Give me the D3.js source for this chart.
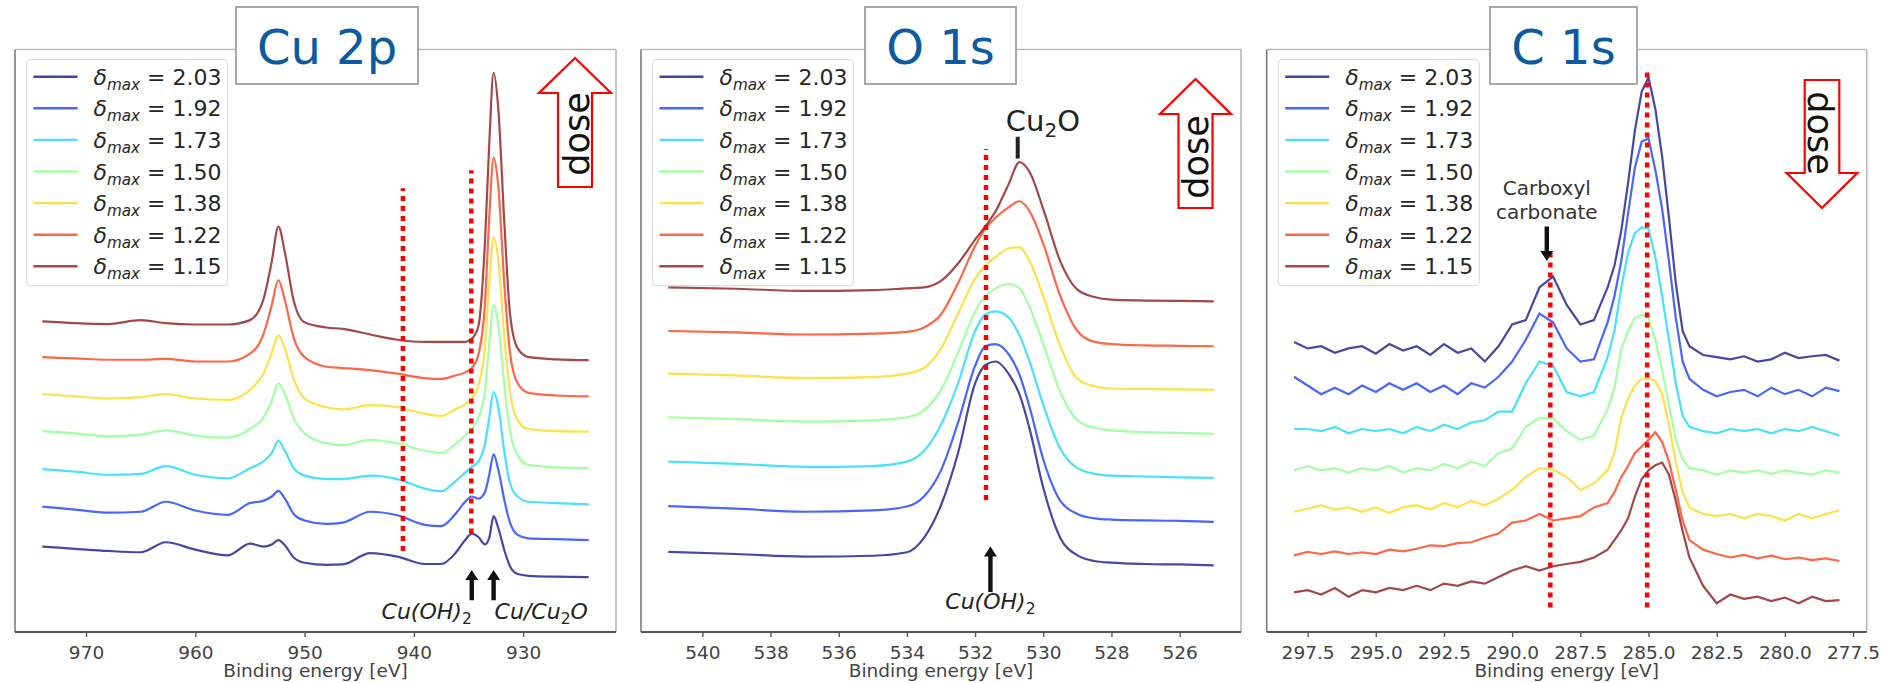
<!DOCTYPE html>
<html>
<head>
<meta charset="utf-8">
<script src="https://cdn.jsdelivr.net/npm/d3@7"></script>
<style>
  body { margin: 0; background: #fff; }
  svg text { font-family: "DejaVu Sans", sans-serif; }
</style>
</head>
<body>
<div id="chart"></div>
<script>
var width = 1885,
  height = 683;

// legend labels (delta_max) and jet colours, top of legend first
var labels = ["2.03", "1.92", "1.73", "1.50", "1.38", "1.22", "1.15"];
var colors = ["#00007f", "#002aff", "#00d4ff", "#80ff80", "#ffd400", "#ff2a00", "#7f0000"];

// ---- Cu 2p (intensity a.u., curves already stacked) ----
var cuEnergy = [974, 971, 968, 965, 962.7, 960, 957, 955, 953.8, 953, 952.4, 951.8, 951, 950, 948, 946.5, 944, 941.5, 939, 937.5, 936.2, 935.3, 934.7, 934.1, 933.5, 933.1, 932.7, 932.3, 931.7, 931.2, 930.5, 929.5, 927, 924];
var cu203 = [197, 192, 187, 184, 207, 190, 177, 204, 197, 202, 212, 200, 172, 160, 155, 156, 182, 174, 157, 157, 182, 212, 227, 219, 202, 217, 267, 242, 187, 152, 134, 130, 128, 127];
var cu192 = [289, 282, 275, 277, 300, 280, 270, 297, 302, 312, 325, 307, 272, 257, 249, 252, 277, 269, 247, 244, 272, 300, 312, 307, 322, 362, 409, 377, 302, 252, 224, 216, 214, 212];
var cu173 = [375, 369, 362, 364, 382, 362, 354, 377, 392, 412, 440, 417, 377, 360, 352, 352, 360, 352, 330, 324, 347, 367, 380, 392, 432, 492, 552, 522, 412, 342, 312, 300, 297, 294];
var cu150 = [462, 457, 450, 454, 464, 452, 447, 467, 492, 532, 572, 547, 492, 457, 434, 430, 442, 434, 417, 412, 432, 452, 467, 492, 552, 662, 752, 712, 562, 462, 407, 384, 379, 377];
var cu138 = [547, 542, 537, 540, 547, 537, 534, 557, 592, 642, 682, 652, 582, 537, 517, 512, 522, 517, 502, 497, 512, 524, 537, 567, 652, 802, 907, 862, 672, 552, 487, 467, 462, 461];
var cu122 = [632, 629, 626, 626, 628, 622, 622, 640, 682, 752, 809, 762, 677, 632, 610, 607, 602, 594, 584, 582, 590, 597, 607, 637, 752, 952, 1090, 1032, 792, 642, 572, 550, 544, 542];
var cu115 = [714, 710, 708, 717, 710, 707, 707, 717, 762, 852, 932, 872, 762, 712, 700, 697, 684, 672, 667, 667, 667, 667, 674, 702, 892, 1122, 1285, 1212, 932, 732, 652, 632, 627, 625];
var cuTicks = [970, 960, 950, 940, 930];
// dotted guides: [energy, from, to]
var cuGuides = [[941.0, 187, 1020], [934.74, 227, 1061]];

// ---- O 1s ----
var oEnergy = [541, 539, 537, 535, 534, 533.5, 533, 532.5, 532, 531.7, 531.4, 531, 530.7, 530.4, 530, 529.5, 529, 528.5, 528, 527, 526, 525];
var o203 = [185, 180, 174, 176, 184, 217, 292, 412, 572, 614, 622, 592, 547, 467, 332, 217, 177, 164, 160, 157, 156, 154];
var o192 = [290, 284, 277, 280, 289, 312, 372, 482, 612, 657, 662, 637, 592, 517, 397, 302, 272, 262, 259, 257, 256, 254];
var o173 = [392, 387, 380, 382, 392, 417, 477, 572, 692, 730, 737, 722, 682, 622, 522, 422, 377, 364, 360, 358, 356, 355];
var o150 = [494, 490, 484, 487, 494, 510, 557, 642, 737, 772, 790, 800, 790, 747, 662, 552, 487, 470, 464, 460, 458, 456];
var o138 = [594, 590, 584, 586, 594, 607, 652, 732, 812, 842, 862, 882, 884, 852, 772, 657, 582, 565, 560, 559, 558, 557];
var o122 = [692, 689, 684, 686, 690, 700, 730, 802, 887, 927, 952, 977, 990, 967, 892, 772, 692, 667, 662, 659, 658, 657];
var o115 = [792, 789, 784, 786, 790, 792, 807, 847, 902, 932, 967, 1032, 1080, 1057, 972, 852, 787, 770, 764, 762, 761, 760];
var oTicks = [540, 538, 536, 534, 532, 530, 528, 526];
var oGuides = [[531.68, 304, 1110]];

// ---- C 1s ----
var cEnergy = [298, 297.5, 297, 296.5, 296, 295.5, 295, 294.5, 294, 293.5, 293, 292.5, 292, 291.5, 291, 290.5, 290, 289.5, 289, 288.5, 288, 287.5, 287, 286.5, 286.25, 286, 285.75, 285.5, 285.25, 285, 284.75, 284.5, 284.25, 284, 283.75, 283.5, 283, 282.5, 282, 281.5, 281, 280.5, 280, 279.5, 279, 278.5, 278];
var c203 = [667, 652, 657, 642, 652, 657, 640, 662, 647, 657, 637, 662, 642, 652, 622, 657, 707, 717, 792, 817, 752, 707, 717, 792, 842, 922, 1032, 1152, 1242, 1274, 1202, 1092, 952, 802, 692, 657, 637, 632, 627, 634, 622, 627, 642, 630, 634, 637, 624];
var c192 = [587, 567, 547, 562, 547, 567, 552, 572, 557, 572, 552, 567, 547, 572, 562, 587, 622, 672, 732, 712, 652, 622, 627, 712, 772, 852, 962, 1067, 1127, 1134, 1062, 972, 852, 722, 622, 582, 557, 542, 552, 557, 542, 562, 547, 557, 542, 562, 554];
var c173 = [467, 467, 462, 472, 457, 467, 462, 467, 457, 472, 462, 477, 467, 482, 487, 507, 507, 572, 622, 612, 552, 542, 552, 632, 692, 792, 872, 917, 930, 927, 862, 772, 672, 572, 497, 472, 462, 457, 467, 462, 467, 457, 467, 462, 472, 462, 452];
var c150 = [372, 382, 372, 377, 367, 377, 372, 382, 367, 377, 372, 387, 377, 392, 382, 412, 422, 472, 492, 492, 462, 442, 452, 512, 562, 652, 692, 722, 730, 722, 672, 602, 522, 442, 397, 377, 372, 362, 372, 367, 372, 364, 372, 367, 362, 372, 367];
var c138 = [277, 284, 292, 282, 287, 277, 287, 274, 287, 292, 282, 297, 287, 302, 292, 307, 327, 357, 377, 374, 357, 327, 342, 372, 412, 492, 537, 567, 582, 584, 577, 547, 477, 392, 322, 287, 272, 267, 272, 262, 272, 267, 257, 272, 262, 272, 280];
var c122 = [177, 185, 180, 186, 180, 184, 180, 190, 186, 192, 200, 198, 205, 207, 218, 227, 252, 257, 272, 257, 262, 267, 287, 297, 322, 357, 382, 412, 427, 442, 460, 437, 392, 327, 257, 212, 190, 180, 172, 178, 170, 176, 168, 172, 166, 170, 164];
var c115 = [92, 97, 87, 102, 82, 97, 92, 102, 97, 107, 97, 112, 107, 117, 112, 127, 142, 152, 142, 152, 157, 162, 172, 190, 212, 234, 262, 312, 352, 372, 384, 390, 362, 302, 232, 172, 107, 67, 87, 77, 82, 72, 80, 67, 82, 72, 74];
var cTicks = [297.5, 295, 292.5, 290, 287.5, 285, 282.5, 280, 277.5];
var cGuides = [[288.6, 57, 883], [285.05, 57, 1293]];


var svg = d3.select("#chart").append("svg")
  .attr("width", width)
  .attr("height", height);

var y = d3.scaleLinear()
  .domain([0, 1340])
  .range([632.4, 48.8]);

var panels = [
  { left: 15, right: 616, domain: [976.5, 921.5], energy: cuEnergy,
    series: [cu203, cu192, cu173, cu150, cu138, cu122, cu115],
    ticks: cuTicks, fmt: d3.format("d"), guides: cuGuides,
    title: "Cu 2p", box: [236, 418], curve: d3.curveMonotoneX,
    dose: { cx: 575, tip: 58, base: 93, end: 187, head: 36, shaft: 17, tx: 589, ty: 134, rot: -90 } },
  { left: 641, right: 1241, domain: [541.8, 524.2], energy: oEnergy,
    series: [o203, o192, o173, o150, o138, o122, o115],
    ticks: oTicks, fmt: d3.format("d"), guides: oGuides,
    title: "O 1s", box: [865, 1016], curve: d3.curveMonotoneX,
    dose: { cx: 1195.5, tip: 79, base: 114, end: 208, head: 35.5, shaft: 17, tx: 1208, ty: 157, rot: -90 } },
  { left: 1266.7, right: 1866.7, domain: [299, 277], energy: cEnergy,
    series: [c203, c192, c173, c150, c138, c122, c115],
    ticks: cTicks, fmt: d3.format(".1f"), guides: cGuides,
    title: "C 1s", box: [1490, 1637], curve: d3.curveLinear,
    dose: { cx: 1822, tip: 208, base: 173, end: 80, head: 35.3, shaft: 17.3, tx: 1808, ty: 133, rot: 90 } }
];

// black annotation arrow, tail -> tip (pixels)
function arrow(g, x0, ya, yb) {
  var dir = yb < ya ? -1 : 1, hl = 10, hw = 6.5, sw = 2.2;
  var pts = [
    [x0 - sw, ya], [x0 - sw, yb - dir * hl], [x0 - hw, yb - dir * hl],
    [x0, yb], [x0 + hw, yb - dir * hl], [x0 + sw, yb - dir * hl], [x0 + sw, ya]
  ];
  g.append("polygon").attr("points", pts.map(function (p) { return p.join(","); }).join(" "))
    .attr("fill", "#111");
}

function mathLabel(g, x, yy, anchor, parts) {
  var t = g.append("text").attr("x", x).attr("y", yy)
    .attr("text-anchor", anchor).attr("font-size", 22).attr("fill", "#222");
  parts.forEach(function (p) {
    var s = t.append("tspan").text(p[0]);
    if (p[1] == "i") s.attr("font-style", "italic");
    if (p[1] == "sub") s.attr("font-size", 15.5).attr("dy", 5);
    if (p[1] == "up") s.attr("font-style", "italic").attr("dy", -5);
  });
}

panels.forEach(function (p, pi) {
  var x = d3.scaleLinear().domain(p.domain).range([p.left, p.right]);
  var g = svg.append("g");

  // frame
  g.append("line").attr("x1", p.left).attr("x2", p.right).attr("y1", 49.5).attr("y2", 49.5)
    .attr("stroke", "#b8b8b8").attr("stroke-width", 1.6);
  g.append("line").attr("x1", p.right).attr("x2", p.right).attr("y1", 49.5).attr("y2", 632)
    .attr("stroke", "#b8b8b8").attr("stroke-width", 1.6);
  g.append("line").attr("x1", p.left).attr("x2", p.left).attr("y1", 49.5).attr("y2", 632)
    .attr("stroke", "#7a7a7a").attr("stroke-width", 1.6);
  g.append("line").attr("x1", p.left).attr("x2", p.right).attr("y1", 632).attr("y2", 632)
    .attr("stroke", "#555").attr("stroke-width", 1.8);

  var ax = g.append("g")
    .attr("transform", "translate(0,632)")
    .call(d3.axisBottom(x).tickValues(p.ticks).tickFormat(p.fmt).tickSize(5).tickSizeOuter(0));
  ax.select(".domain").remove();
  ax.selectAll(".tick line").attr("stroke", "#555").attr("stroke-width", 1.4);
  ax.selectAll(".tick text").attr("font-size", 18.5).attr("fill", "#444").attr("dy", "1.05em")
    .attr("font-family", "DejaVu Sans");

  g.append("text")
    .attr("x", (p.left + p.right) / 2).attr("y", 677)
    .attr("text-anchor", "middle").attr("font-size", 18.5).attr("fill", "#444")
    .text("Binding energy [eV]");

  // spectra
  var line = d3.line()
    .x(function (d, j) { return x(p.energy[j]); })
    .y(function (d) { return y(d); })
    .curve(p.curve);
  p.series.forEach(function (s, i) {
    g.append("path").datum(s)
      .attr("d", line)
      .attr("fill", "none")
      .attr("stroke", colors[i])
      .attr("stroke-opacity", 0.72)
      .attr("stroke-width", 2.2);
  });

  // red dotted guides
  p.guides.forEach(function (d) {
    g.append("line")
      .attr("x1", x(d[0])).attr("x2", x(d[0]))
      .attr("y1", y(d[1])).attr("y2", y(d[2]))
      .attr("stroke", "#ff0000").attr("stroke-width", 4.5)
      .attr("stroke-dasharray", "5,5");
  });

  // annotations
  if (pi == 0) {
    arrow(g, x(934.7), y(74), y(143));
    arrow(g, x(932.7), y(74), y(143));
    mathLabel(g, x(934.7), y(31), "end", [["Cu(OH)", "i"], ["2", "sub"]]);
    mathLabel(g, x(932.7) + 1, y(31), "start", [["Cu/Cu", "i"], ["2", "sub"], ["O", "up"]]);
  }
  if (pi == 1) {
    arrow(g, x(531.55), y(93), y(197));
    mathLabel(g, x(531.55), y(54), "middle", [["Cu(OH)", "i"], ["2", "sub"]]);
    g.append("line").attr("x1", x(530.75)).attr("x2", x(530.75))
      .attr("y1", y(1138)).attr("y2", y(1088))
      .attr("stroke", "#222").attr("stroke-width", 4);
    var cu = g.append("text").attr("x", x(530.01)).attr("y", y(1151))
      .attr("text-anchor", "middle").attr("font-size", 29).attr("fill", "#222");
    cu.append("tspan").text("Cu");
    cu.append("tspan").attr("font-size", 20).attr("dy", 6).text("2");
    cu.append("tspan").attr("dy", -6).text("O");
  }
  if (pi == 2) {
    arrow(g, x(288.73), y(932), y(853));
    g.append("text").attr("x", x(288.73)).attr("y", y(1004))
      .attr("text-anchor", "middle").attr("font-size", 20).attr("fill", "#333").text("Carboxyl");
    g.append("text").attr("x", x(288.73)).attr("y", y(949))
      .attr("text-anchor", "middle").attr("font-size", 20).attr("fill", "#333").text("carbonate");
  }

  // legend
  var lx = p.left + 11.5, ly = 59.7;
  var lg = g.append("g");
  lg.append("rect")
    .attr("x", lx).attr("y", ly).attr("width", 201).attr("height", 226)
    .attr("rx", 4)
    .attr("fill", "#fff").attr("fill-opacity", 0.85)
    .attr("stroke", "#dcdcdc").attr("stroke-width", 1.2);
  labels.forEach(function (lab, i) {
    var ry = ly + 17 + i * 31.6;
    lg.append("line")
      .attr("x1", lx + 7).attr("x2", lx + 51)
      .attr("y1", ry).attr("y2", ry)
      .attr("stroke", colors[i]).attr("stroke-opacity", 0.72).attr("stroke-width", 2.4);
    var t = lg.append("text").attr("x", lx + 67).attr("y", ry + 8)
      .attr("font-size", 22).attr("fill", "#262626");
    t.append("tspan").attr("font-style", "italic").text("δ");
    t.append("tspan").attr("font-style", "italic").attr("font-size", 15.2).attr("dy", 5).text("max");
    t.append("tspan").attr("dy", -5).text(" = " + lab);
  });

  // title box
  g.append("rect")
    .attr("x", p.box[0]).attr("y", 7)
    .attr("width", p.box[1] - p.box[0]).attr("height", 77)
    .attr("fill", "#fff").attr("stroke", "#a8a8a8").attr("stroke-width", 2);
  g.append("text")
    .attr("x", (p.box[0] + p.box[1]) / 2).attr("y", 64)
    .attr("text-anchor", "middle").attr("font-size", 48).attr("fill", "#0b5aa2")
    .text(p.title);

  // dose arrow
  var d = p.dose;
  var pts = [
    [d.cx, d.tip], [d.cx + d.head, d.base], [d.cx + d.shaft, d.base], [d.cx + d.shaft, d.end],
    [d.cx - d.shaft, d.end], [d.cx - d.shaft, d.base], [d.cx - d.head, d.base]
  ];
  g.append("polygon")
    .attr("points", pts.map(function (q) { return q.join(","); }).join(" "))
    .attr("fill", "#fff").attr("stroke", "#ff0000").attr("stroke-width", 2.2);
  g.append("text")
    .attr("transform", "translate(" + d.tx + "," + d.ty + ") rotate(" + d.rot + ")")
    .attr("text-anchor", "middle").attr("font-size", 35).attr("fill", "#111")
    .text("dose");
});
</script>
</body>
</html>
